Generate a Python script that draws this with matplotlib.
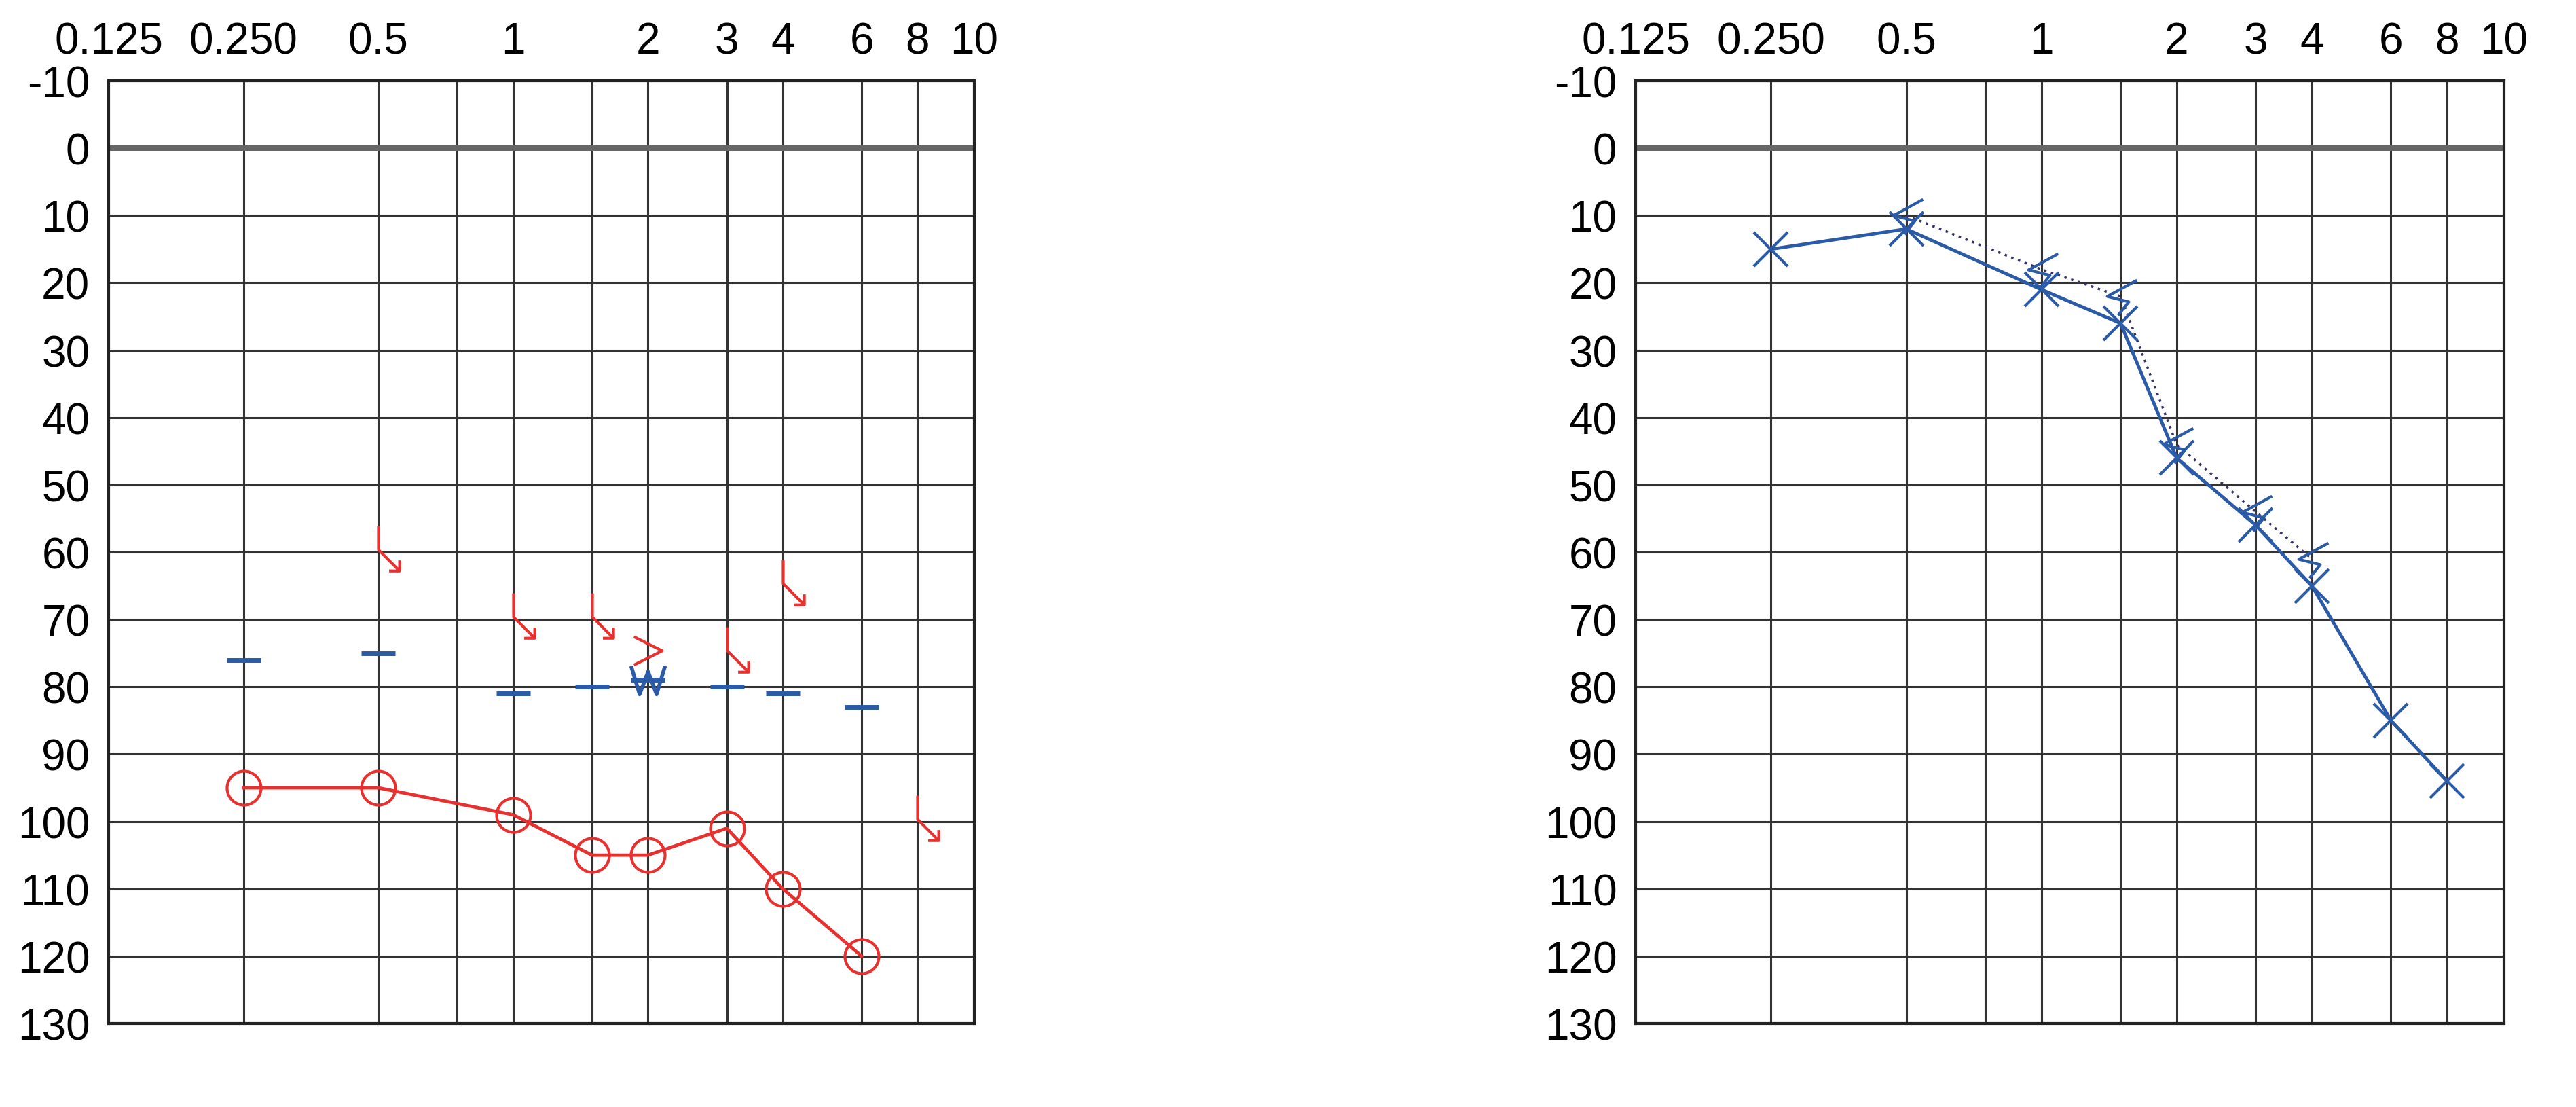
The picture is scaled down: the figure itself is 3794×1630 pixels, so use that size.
import numpy as np
import matplotlib
matplotlib.use("Agg")
import matplotlib.pyplot as plt
from matplotlib.path import Path

plt.rcParams['font.family'] = ['Liberation Sans', 'DejaVu Sans']
plt.rcParams['axes.unicode_minus'] = False

# Left ear data
L_freq = [0.25, 0.5, 1, 1.5, 2, 3, 4, 6]
L_air = [95, 95, 99, 105, 105, 101, 110, 120]
L_mask = [76, 75, 81, 80, 79, 80, 81, 83]
L_nr_freq = [0.5, 1, 1.5, 3, 4, 8]
L_nr_db = [60, 70, 70, 75, 65, 100]
L_bone_freq = [2]
L_bone_db = [75]

# Right ear data
R_freq = [0.25, 0.5, 1, 1.5, 2, 3, 4, 6, 8]
R_air = [15, 12, 21, 26, 46, 56, 65, 85, 94]
R_bone_freq = [0.5, 1, 1.5, 2, 3, 4]
R_bone_db = [10, 18, 22, 44, 54, 61]

xtick_vals = [0.125, 0.25, 0.5, 1, 2, 3, 4, 6, 8]
xtick_labels = ["0.125", "0.250", "0.5", "1", "2", "3", "4", "6", "8"]
grid_x = [0.25, 0.5, 0.75, 1, 1.5, 2, 3, 4, 6, 8]
ytick_vals = list(range(-10, 131, 10))

RED = "#e8302f"
BLUE = "#2b5aa6"
XMAX = 8 * 2 ** 0.42

nr_marker = Path([(0, 1.0), (0, 0.1), (0.8, -0.7), (0.8, -0.3), (0.8, -0.7), (0.4, -0.7)],
                 [Path.MOVETO, Path.LINETO, Path.LINETO, Path.MOVETO, Path.LINETO, Path.LINETO])
gt_marker = Path([(-0.5, 0.6), (0.5, 0.1), (-0.5, -0.4)], [Path.MOVETO, Path.LINETO, Path.LINETO])
zig_marker = Path([(-0.6, 0.5), (-0.3, -0.5), (0, 0.3), (0.3, -0.5), (0.6, 0.5)],
                  [Path.MOVETO] + [Path.LINETO] * 4)
bone_marker = Path([(0.6, 0.6), (-0.5, 0.0), (0.3, -0.2), (-0.1, -0.7)],
                   [Path.MOVETO, Path.LINETO, Path.LINETO, Path.LINETO])

fig = plt.figure(figsize=(37.94, 16.31), dpi=100)
ax1 = fig.add_axes([0.0422, 0.0754, 0.336, 0.851])
ax2 = fig.add_axes([0.635, 0.0754, 0.337, 0.851])

for ax in (ax1, ax2):
    ax.set_xscale("log", base=2)
    ax.set_xlim(0.125, XMAX)
    ax.set_ylim(130, -10)
    ax.xaxis.tick_top()
    ax.set_xticks(xtick_vals + [XMAX])
    ax.set_xticklabels(xtick_labels + ["10"])
    ax.xaxis.set_minor_locator(matplotlib.ticker.NullLocator())
    ax.set_yticks(ytick_vals)
    ax.tick_params(length=0, labelsize=46, pad=20)
    for g in grid_x:
        ax.axvline(g, color="#333333", lw=2.2, zorder=1)
    for y in ytick_vals:
        if y == 0:
            ax.axhline(y, color="#666666", lw=6, zorder=1)
        else:
            ax.axhline(y, color="#333333", lw=2.2, zorder=1)
    for s in ax.spines.values():
        s.set_linewidth(3)
        s.set_color("#222222")

ax1.plot(L_freq, L_air, color=RED, lw=3.5, marker="o", ms=36, mfc="none", mec=RED, mew=3, zorder=3)
ax1.plot(L_freq, L_mask, ls="none", marker="_", ms=36, mew=5, color=BLUE, zorder=3)
ax1.plot(L_nr_freq, L_nr_db, ls="none", marker=nr_marker, ms=56, mew=3, color=RED, mfc="none", zorder=3)
ax1.plot(L_bone_freq, L_bone_db, ls="none", marker=gt_marker, ms=36, mew=3, color=RED, mfc="none", zorder=3)
ax1.plot([2], [79], ls="none", marker=zig_marker, ms=36, mew=4, color=BLUE, mfc="none", zorder=3)

ax2.plot(R_bone_freq, R_bone_db, color="#333366", lw=2.5, ls=(0, (1, 2)), zorder=2)
ax2.plot(R_bone_freq, R_bone_db, ls="none", marker=bone_marker, ms=40, mew=3, color=BLUE, mfc="none", zorder=3)
ax2.plot(R_freq, R_air, color=BLUE, lw=3.5, marker="x", ms=36, mew=3, zorder=3)

fig.savefig("out.png", dpi=100, facecolor="white")
